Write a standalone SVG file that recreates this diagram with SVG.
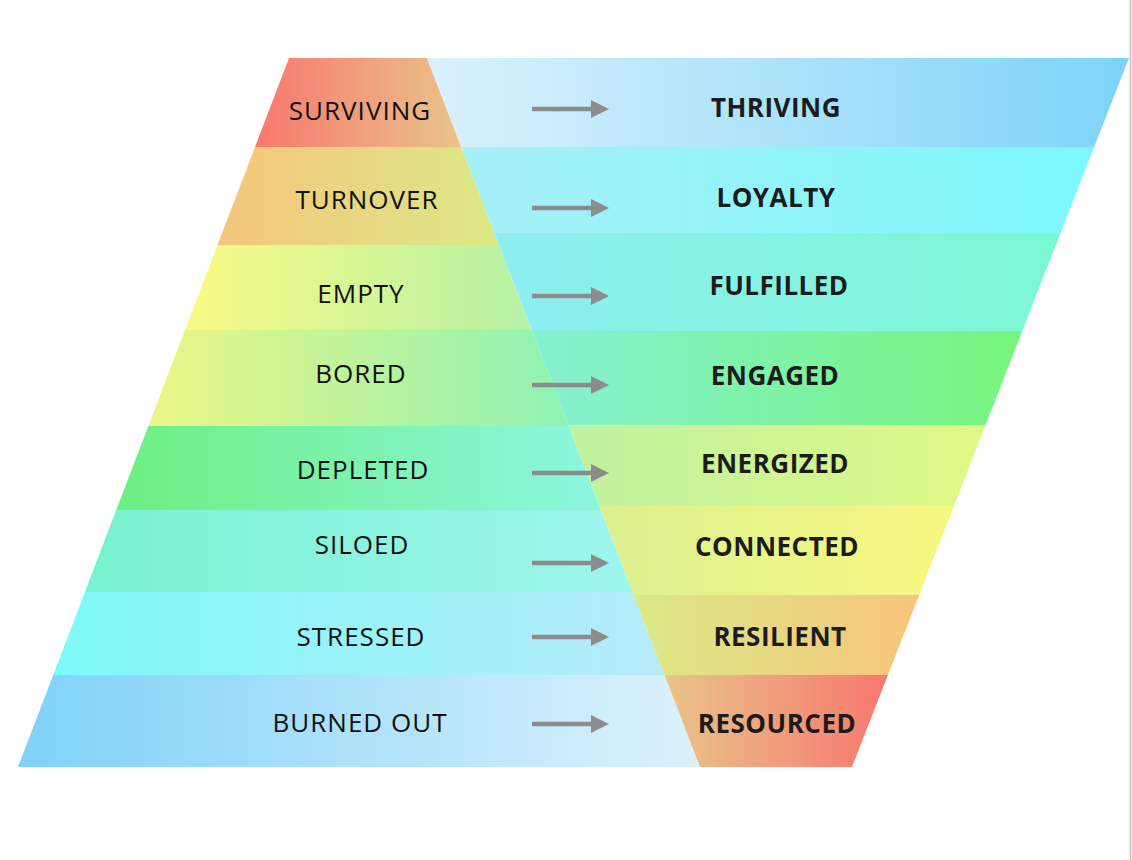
<svg xmlns="http://www.w3.org/2000/svg" width="1132" height="860" viewBox="0 0 1132 860">
<style>
.lt{font-family:"Open Sans","Liberation Sans",sans-serif;font-size:26px;letter-spacing:1px;fill:#111111;text-anchor:middle}
.rt{font-family:"Open Sans","Liberation Sans",sans-serif;font-size:26px;letter-spacing:0.5px;font-weight:bold;fill:#1c1c1c;text-anchor:middle}
.arr{stroke:#8c8c8c;stroke-width:4.5;fill:none}
.head{fill:#8c8c8c}
</style>
<defs>
<linearGradient id="gl1"><stop offset="0" stop-color="#f8786e"/><stop offset="1" stop-color="#e9c48a"/></linearGradient>
<linearGradient id="gl2"><stop offset="0" stop-color="#f6c47c"/><stop offset="1" stop-color="#dbe986"/></linearGradient>
<linearGradient id="gl3"><stop offset="0" stop-color="#fafa84"/><stop offset="1" stop-color="#b4f2a6"/></linearGradient>
<linearGradient id="gl4"><stop offset="0" stop-color="#ecf584"/><stop offset="1" stop-color="#8ef2b4"/></linearGradient>
<linearGradient id="gl5"><stop offset="0" stop-color="#6def80"/><stop offset="1" stop-color="#8cf6e0"/></linearGradient>
<linearGradient id="gl6"><stop offset="0" stop-color="#78f2d0"/><stop offset="1" stop-color="#9ef6ee"/></linearGradient>
<linearGradient id="gl7"><stop offset="0" stop-color="#7ef9fa"/><stop offset="1" stop-color="#b6ecf8"/></linearGradient>
<linearGradient id="gl8"><stop offset="0" stop-color="#7fd2f8"/><stop offset="1" stop-color="#dcf2fc"/></linearGradient>
<linearGradient id="gr1"><stop offset="0" stop-color="#daf2fc"/><stop offset="1" stop-color="#7ed3f9"/></linearGradient>
<linearGradient id="gr2"><stop offset="0" stop-color="#a6f0f6"/><stop offset="1" stop-color="#7cf8fc"/></linearGradient>
<linearGradient id="gr3"><stop offset="0" stop-color="#8eeef0"/><stop offset="1" stop-color="#7cf8d4"/></linearGradient>
<linearGradient id="gr4"><stop offset="0" stop-color="#86f0d0"/><stop offset="1" stop-color="#76f57c"/></linearGradient>
<linearGradient id="gr5"><stop offset="0" stop-color="#bff2a0"/><stop offset="1" stop-color="#e0f886"/></linearGradient>
<linearGradient id="gr6"><stop offset="0" stop-color="#dcf090"/><stop offset="1" stop-color="#f8f880"/></linearGradient>
<linearGradient id="gr7"><stop offset="0" stop-color="#dbe986"/><stop offset="1" stop-color="#f7c47c"/></linearGradient>
<linearGradient id="gr8"><stop offset="0" stop-color="#e9c48a"/><stop offset="1" stop-color="#f8786e"/></linearGradient>
<path id="ah" d="M0,-9 L18,0 L0,9 Z"/>
</defs>
<rect width="1132" height="860" fill="#ffffff"/>
<line x1="1130.5" y1="0" x2="1130.5" y2="860" stroke="#cccccc" stroke-width="2"/>

<g id="left-surviving"><polygon points="289,58 427,58 461.3,147 255,147" fill="url(#gl1)"/><text class="lt" x="360" y="120">SURVIVING</text></g>
<g id="left-turnover"><polygon points="255,147 461.3,147 499,245 217.5,245" fill="url(#gl2)"/><text class="lt" x="367" y="209">TURNOVER</text></g>
<g id="left-empty"><polygon points="217.5,245 499,245 531.7,330 185,330" fill="url(#gl3)"/><text class="lt" x="361" y="303">EMPTY</text></g>
<g id="left-bored"><polygon points="185,330 531.7,330 568.7,426 148.4,426" fill="url(#gl4)"/><text class="lt" x="361" y="383">BORED</text></g>
<g id="left-depleted"><polygon points="148.4,426 568.7,426 601,510 116.2,510" fill="url(#gl5)"/><text class="lt" x="363" y="479">DEPLETED</text></g>
<g id="left-siloed"><polygon points="116.2,510 601,510 632.6,592 84.9,592" fill="url(#gl6)"/><text class="lt" x="362" y="554">SILOED</text></g>
<g id="left-stressed"><polygon points="84.9,592 632.6,592 664.5,675 53.2,675" fill="url(#gl7)"/><text class="lt" x="361" y="646">STRESSED</text></g>
<g id="left-burned-out"><polygon points="53.2,675 664.5,675 700,767 18,767" fill="url(#gl8)"/><text class="lt" x="360" y="732">BURNED OUT</text></g>

<g id="right-thriving"><polygon points="427,58 1129,58 1094.2,147 461.3,147" fill="url(#gr1)"/><text class="rt" x="776" y="117">THRIVING</text></g>
<g id="right-loyalty"><polygon points="461.3,147 1094.2,147 1060.6,233 494.4,233" fill="url(#gr2)"/><text class="rt" x="776" y="207">LOYALTY</text></g>
<g id="right-fulfilled"><polygon points="494.4,233 1060.6,233 1022.3,331 532.1,331" fill="url(#gr3)"/><text class="rt" x="779" y="295">FULFILLED</text></g>
<g id="right-engaged"><polygon points="532.1,331 1022.3,331 985.6,425 568.3,425" fill="url(#gr4)"/><text class="rt" x="775" y="385">ENGAGED</text></g>
<g id="right-energized"><polygon points="568.3,425 985.6,425 954,506 599.5,506" fill="url(#gr5)"/><text class="rt" x="775" y="473">ENERGIZED</text></g>
<g id="right-connected"><polygon points="599.5,506 954,506 919.2,595 633.7,595" fill="url(#gr6)"/><text class="rt" x="777" y="556">CONNECTED</text></g>
<g id="right-resilient"><polygon points="633.7,595 919.2,595 887.9,675 664.5,675" fill="url(#gr7)"/><text class="rt" x="780" y="646">RESILIENT</text></g>
<g id="right-resourced"><polygon points="664.5,675 887.9,675 852,767 700,767" fill="url(#gr8)"/><text class="rt" x="777" y="733">RESOURCED</text></g>

<g id="connectors">
<line class="arr" x1="532" y1="109" x2="592" y2="109"/><use href="#ah" x="591" y="109" class="head"/>
<line class="arr" x1="532" y1="208" x2="592" y2="208"/><use href="#ah" x="591" y="208" class="head"/>
<line class="arr" x1="532" y1="296" x2="592" y2="296"/><use href="#ah" x="591" y="296" class="head"/>
<line class="arr" x1="532" y1="385" x2="592" y2="385"/><use href="#ah" x="591" y="385" class="head"/>
<line class="arr" x1="532" y1="473" x2="592" y2="473"/><use href="#ah" x="591" y="473" class="head"/>
<line class="arr" x1="532" y1="563" x2="592" y2="563"/><use href="#ah" x="591" y="563" class="head"/>
<line class="arr" x1="532" y1="637" x2="592" y2="637"/><use href="#ah" x="591" y="637" class="head"/>
<line class="arr" x1="532" y1="724" x2="592" y2="724"/><use href="#ah" x="591" y="724" class="head"/>
</g>
</svg>
